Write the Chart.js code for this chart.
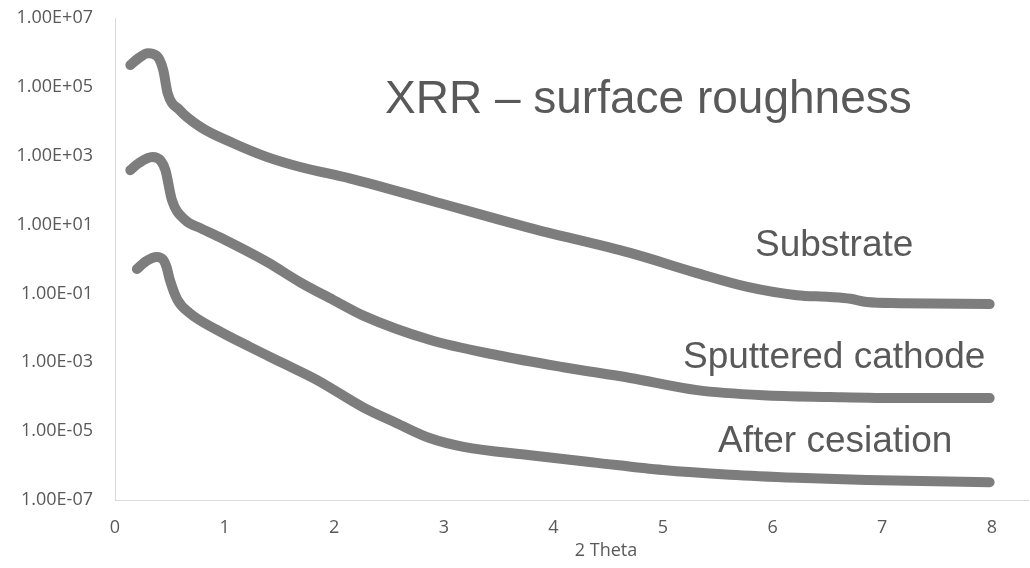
<!DOCTYPE html>
<html>
<head>
<meta charset="utf-8">
<script src="https://cdn.jsdelivr.net/npm/chart.js@4.4.0/dist/chart.umd.min.js"></script>
<style>
  html, body { margin: 0; padding: 0; background: #fff; }
  #wrap { width: 1030px; height: 568px; position: relative; }
</style>
</head>
<body>
<div id="wrap"><canvas id="xrrChart"></canvas></div>
<script>
// values (2 Theta vs reflectivity, log scale)
const substrateX = [0.14, 0.22, 0.30, 0.38, 0.44, 0.48, 0.59, 0.78, 1.08, 1.39, 1.69, 2.14, 2.87, 3.79, 4.70, 5.31, 5.77, 6.22, 6.52, 6.71, 6.86, 7.16, 7.98];
const substrateY = [4.3e5, 7.0e5, 9.5e5, 8.0e5, 3.1e5, 6.6e4, 2.1e4, 6.8e3, 2.3e3, 910, 470, 220, 51, 7.9, 1.5, 0.39, 0.155, 0.089, 0.079, 0.07, 0.056, 0.052, 0.049];

const sputteredX = [0.14, 0.22, 0.34, 0.42, 0.46, 0.52, 0.64, 0.78, 1.01, 1.39, 1.69, 1.99, 2.26, 2.87, 3.49, 4.09, 4.70, 5.31, 5.91, 6.52, 7.16, 7.98];
const sputteredY = [380, 620, 910, 700, 380, 51, 13.5, 7.9, 3.5, 0.81, 0.21, 0.065, 0.023, 0.0045, 0.0016, 7.2e-4, 3.5e-4, 1.55e-4, 1.1e-4, 9.8e-5, 9.1e-5, 9.1e-5];

const cesiatedX = [0.20, 0.28, 0.38, 0.44, 0.47, 0.50, 0.57, 0.68, 0.93, 1.23, 1.53, 1.84, 2.26, 2.57, 2.87, 3.18, 3.79, 4.40, 5.00, 5.61, 6.22, 6.86, 7.98];
const cesiatedY = [0.51, 0.85, 1.15, 0.95, 0.59, 0.25, 0.065, 0.027, 0.0087, 0.0028, 9.5e-4, 3.1e-4, 5.0e-5, 1.7e-5, 6.3e-6, 3.5e-6, 2.0e-6, 1.2e-6, 7.4e-7, 5.4e-7, 4.4e-7, 3.8e-7, 3.3e-7];

const seriesNames = ['Substrate', 'Sputtered cathode', 'After cesiation'];
const xTickValues = [0, 1, 2, 3, 4, 5, 6, 7, 8];
const yTickExponents = [-7, -5, -3, -1, 1, 3, 5, 7];
const chartTitle = 'XRR \u2013 surface roughness';
const xAxisTitle = '2 Theta';

const textGrey = '#595959';
const curveGrey = '#7d7d7d';
const tickFont = { family: "'Open Sans', sans-serif", size: 18 };

function toPoints(xs, ys) {
    return xs.map((x, i) => ({ x: x, y: ys[i] }));
}

function sciLabel(v) {
    const e = Math.round(Math.log10(v));
    const sign = e < 0 ? '-' : '+';
    return '1.00E' + sign + String(Math.abs(e)).padStart(2, '0');
}

function curve(label, xs, ys) {
    return {
        label: label,
        data: toPoints(xs, ys),
        borderColor: curveGrey,
        backgroundColor: curveGrey,
        borderWidth: 10,
        borderCapStyle: 'round',
        borderJoinStyle: 'round',
        pointRadius: 0,
        cubicInterpolationMode: 'monotone',
        fill: false
    };
}

// text drawn straight on the canvas: title, curve labels, x axis title
const textPlugin = {
    id: 'xrrText',
    afterDraw(chart) {
        const ctx = chart.ctx;
        ctx.save();
        ctx.fillStyle = textGrey;
        ctx.textBaseline = 'alphabetic';
        ctx.textAlign = 'left';

        ctx.font = "46px 'Liberation Sans', Arial, sans-serif";
        ctx.fillText(chartTitle, 385, 113);

        ctx.font = "37px 'Liberation Sans', Arial, sans-serif";
        ctx.fillText(seriesNames[0], 755, 256);
        ctx.fillText(seriesNames[1], 683, 368);
        ctx.fillText(seriesNames[2], 718, 452);

        ctx.font = "18px 'Open Sans', sans-serif";
        ctx.textAlign = 'center';
        ctx.textBaseline = 'middle';
        ctx.fillText(xAxisTitle, 606, 551);
        ctx.restore();
    }
};

const ctx = document.getElementById('xrrChart');
new Chart(ctx, {
    type: 'line',
    data: {
        datasets: [
            curve(seriesNames[0], substrateX, substrateY),
            curve(seriesNames[1], sputteredX, sputteredY),
            curve(seriesNames[2], cesiatedX, cesiatedY)
        ]
    },
    options: {
        responsive: true,
        maintainAspectRatio: false,
        animation: false,
        layout: { padding: { top: 18, right: 2, bottom: 0, left: 0 } },
        plugins: {
            legend: { display: false },
            tooltip: { enabled: false }
        },
        scales: {
            x: {
                type: 'linear',
                min: 0,
                max: 8.33,
                grid: { display: false, drawTicks: false },
                border: { color: '#d9d9d9', width: 1 },
                ticks: {
                    stepSize: 1,
                    includeBounds: false,
                    padding: 17,
                    color: textGrey,
                    font: tickFont
                },
                afterBuildTicks(scale) {
                    scale.ticks = xTickValues.map(v => ({ value: v }));
                },
                afterFit(scale) {
                    scale.height = 68;
                    scale.paddingLeft = 0;
                    scale.paddingRight = 0;
                }
            },
            y: {
                type: 'logarithmic',
                min: 1e-7,
                max: 1e7,
                grid: { display: false, drawTicks: false },
                border: { color: '#d9d9d9', width: 1 },
                ticks: {
                    padding: 22,
                    color: textGrey,
                    font: tickFont,
                    callback: (v) => sciLabel(v)
                },
                afterBuildTicks(scale) {
                    scale.ticks = yTickExponents.map(e => ({ value: Math.pow(10, e) }));
                },
                afterFit(scale) {
                    scale.width = 115;
                    scale.paddingTop = 0;
                    scale.paddingBottom = 0;
                }
            }
        }
    },
    plugins: [textPlugin]
});
</script>
</body>
</html>
